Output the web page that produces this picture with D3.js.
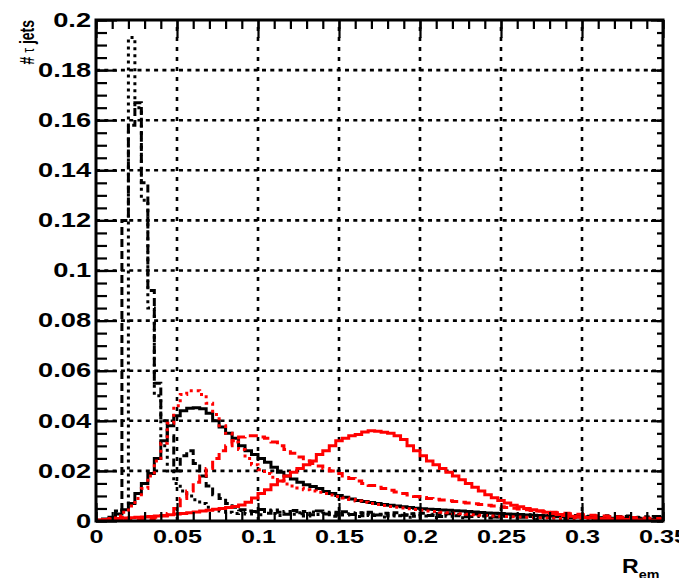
<!DOCTYPE html>
<html>
<head>
<meta charset="utf-8">
<script src="https://cdn.jsdelivr.net/npm/d3@7"></script>
<style>
  html, body { margin: 0; padding: 0; background: #fff; }
  svg { display: block; }
  text { font-family: "Liberation Sans", Arial, Helvetica, sans-serif; font-weight: bold; fill: #000; }
</style>
</head>
<body>
<svg id="chart" width="679" height="578"></svg>
<script>
// ---------------- data ----------------
const binWidth = 0.004;   // histogram bin width (bins start at 0)

const xTicks = [0, 0.05, 0.1, 0.15, 0.2, 0.25, 0.3, 0.35];
const xTickLabels = ["0", "0.05", "0.1", "0.15", "0.2", "0.25", "0.3", "0.35"];
const yTicks = [0, 0.02, 0.04, 0.06, 0.08, 0.1, 0.12, 0.14, 0.16, 0.18, 0.2];
const yTickLabels = ["0", "0.02", "0.04", "0.06", "0.08", "0.1", "0.12", "0.14", "0.16", "0.18", "0.2"];

// black solid
const blackSolid = [
  0.0003,0.0008,0.0015,0.0028,0.0045,0.007,0.011,0.015,0.019,0.025,
  0.032,0.038,0.042,0.044,0.045,0.0452,0.0448,0.043,0.040,0.0375,
  0.035,0.033,0.030,0.028,0.0265,0.025,0.0235,0.0215,0.0195,0.018,
  0.0168,0.0155,0.0145,0.0138,0.013,0.0118,0.011,0.0102,0.0095,0.0088,
  0.0082,0.0078,0.0074,0.007,0.0066,0.0063,0.006,0.0057,0.0054,0.0051,
  0.0049,0.0047,0.0046,0.0044,0.0043,0.0041,0.004,0.0038,0.0036,0.0034,
  0.0032,0.0031,0.003,0.0028,0.0027,0.0026,0.0024,0.0023,0.0022,0.0021,
  0.002,0.0019,0.0018,0.0017,0.0016,0.0015,0.0014,0.0013,0.0012,0.0011,
  0.001,0.0009,0.0009,0.0008,0.0007,0.0007,0.0006,0.0006
];
// black dashed (narrow peak)
const blackDashed = [
  0,0,0.0005,0.004,0.12,0.158,0.167,0.135,0.092,0.055,
  0.04,0.034,0.02,0.026,0.028,0.023,0.018,0.014,0.0105,0.009,
  0.007,0.0055,0.0045,0.004,0.0038,0.0046,0.0031,0.0044,0.0035,0.0027,
  0.0042,0.0029,0.0038,0.0025,0.004,0.0028,0.0035,0.0023,0.0037,0.0026,
  0.0033,0.0021,0.0035,0.0024,0.0031,0.002,0.0033,0.0023,0.0029,0.0019,
  0.0031,0.0022,0.0027,0.0018,0.0029,0.0021,0.0026,0.0017,0.0028,0.002,
  0.0024,0.0016,0.0027,0.0019,0.0023,0.0015,0.0025,0.0018,0.0022,0.0014,
  0.0024,0.0017,0.002,0.0013,0.0022,0.0016,0.0019,0.0012,0.0021,0.0015,
  0.0018,0.0011,0.002,0.0014,0.0017,0.001,0.0018,0.0013
];
// black dotted (tallest peak)
const blackDotted = [
  0,0,0,0.0005,0.004,0.193,0.165,0.128,0.085,0.05,
  0.03,0.02,0.015,0.012,0.01,0.0085,0.007,0.0055,0.0045,0.004,
  0.0035,0.003,0.0042,0.0028,0.0036,0.0025,0.0041,0.003,0.0022,0.0038,
  0.0027,0.0033,0.002,0.0036,0.0026,0.0031,0.0019,0.0034,0.0024,0.0029,
  0.0018,0.0032,0.0022,0.0027,0.0016,0.003,0.0021,0.0025,0.0015,0.0028,
  0.002,0.0024,0.0014,0.0027,0.0019,0.0023,0.0013,0.0025,0.0018,0.0021,
  0.0012,0.0024,0.0017,0.002,0.0011,0.0023,0.0016,0.0019,0.001,0.0022,
  0.0015,0.0018,0.001,0.002,0.0014,0.0017,0.0009,0.0019,0.0013,0.0016,
  0.0009,0.0018,0.0012,0.0015,0.0008,0.0016,0.0011,0.0013
];
// red solid (broad, late peak)
const redSolid = [
  0.0004,0.0006,0.0008,0.001,0.0012,0.0013,0.0015,0.0016,0.0018,0.002,
  0.0022,0.0025,0.0028,0.003,0.0033,0.0036,0.004,0.0043,0.0047,0.005,
  0.0054,0.0058,0.0064,0.0075,0.0092,0.011,0.0125,0.0145,0.016,0.018,
  0.0195,0.021,0.0225,0.024,0.0265,0.028,0.030,0.032,0.033,0.034,
  0.0345,0.0355,0.036,0.0358,0.0354,0.035,0.034,0.0325,0.030,0.028,
  0.026,0.024,0.0225,0.021,0.0195,0.018,0.0165,0.015,0.0135,0.012,
  0.0105,0.0093,0.0082,0.0072,0.0063,0.0057,0.005,0.0045,0.004,0.0035,
  0.003,0.0026,0.0022,0.0019,0.0016,0.0014,0.0012,0.001,0.0009,0.0008,
  0.0007,0.0006,0.0005,0.0004,0.0003,0.0003,0.0002,0.0002
];
// red dashed (peak near 0.1)
const redDashed = [
  0,0,0,0.0001,0.0002,0.0003,0.0005,0.0008,0.001,0.0015,
  0.002,0.003,0.005,0.009,0.012,0.0155,0.018,0.021,0.025,0.028,
  0.030,0.032,0.0335,0.034,0.034,0.0335,0.033,0.0315,0.030,0.0285,
  0.027,0.0255,0.024,0.023,0.022,0.021,0.020,0.019,0.018,0.017,
  0.016,0.015,0.0142,0.0135,0.013,0.0123,0.0116,0.011,0.0104,0.0098,
  0.0094,0.009,0.0087,0.0084,0.0081,0.0078,0.0075,0.0072,0.0069,0.0066,
  0.0063,0.006,0.0057,0.0054,0.0051,0.0048,0.0045,0.0042,0.004,0.0037,
  0.0035,0.0033,0.0031,0.0029,0.0027,0.0025,0.0023,0.0021,0.002,0.0018,
  0.0017,0.0015,0.0014,0.0013,0.0012,0.0011,0.001,0.0009
];
// red dotted (peak near 0.06)
const redDotted = [
  0.0002,0.0005,0.001,0.002,0.0035,0.006,0.009,0.013,0.018,0.024,
  0.031,0.039,0.046,0.0505,0.052,0.052,0.0505,0.047,0.0425,0.038,
  0.035,0.0315,0.0285,0.025,0.0225,0.0205,0.019,0.0175,0.016,0.0148,
  0.014,0.0132,0.0125,0.012,0.0115,0.011,0.0104,0.0098,0.0092,0.0086,
  0.008,0.0075,0.007,0.0066,0.0062,0.0058,0.0055,0.0052,0.0049,0.0046,
  0.0043,0.004,0.0038,0.0035,0.0033,0.0031,0.0029,0.0027,0.0025,0.0023,
  0.0022,0.002,0.0019,0.0018,0.0017,0.0016,0.0015,0.0014,0.0013,0.0012,
  0.0011,0.001,0.001,0.0009,0.0008,0.0008,0.0007,0.0006,0.0006,0.0005,
  0.0005,0.0004,0.0004,0.0003,0.0003,0.0003,0.0002,0.0002
];

// ---------------- drawing ----------------
const svg = d3.select("#chart");
const x = d3.scaleLinear().domain([0, 0.35]).range([96, 663]);
const y = d3.scaleLinear().domain([0, 0.2]).range([521, 20]);
const TXS = 1.4; // horizontal stretch of the reference text

svg.append("defs").append("clipPath").attr("id", "frameClip")
  .append("rect").attr("x", x(0)).attr("y", y(0.2))
  .attr("width", x(0.35) - x(0)).attr("height", y(0) - y(0.2));

// grid
const grid = svg.append("g");
grid.selectAll("line.gx").data(xTicks.slice(1, -1)).join("line")
  .attr("x1", d => x(d)).attr("x2", d => x(d))
  .attr("y1", y(0)).attr("y2", y(0.2))
  .attr("stroke", "#000").attr("stroke-width", 2.6).attr("stroke-dasharray", "4,6");
grid.selectAll("line.gy").data(yTicks.slice(1, -1)).join("line")
  .attr("y1", d => y(d)).attr("y2", d => y(d))
  .attr("x1", x(0)).attr("x2", x(0.35))
  .attr("stroke", "#000").attr("stroke-width", 2.6).attr("stroke-dasharray", "4,4.3");

// histograms
const line = d3.line().x(d => x(d.x)).y(d => y(d.y)).curve(d3.curveStepAfter);
function histPts(vals) {
  const pts = [{x: 0, y: 0}];
  vals.forEach((v, i) => pts.push({x: i * binWidth, y: v}));
  const end = vals.length * binWidth;
  pts.push({x: end, y: vals[vals.length - 1]});
  pts.push({x: end, y: 0});
  return pts;
}
const series = [
  {vals: blackSolid,  color: "#000", dash: null},
  {vals: blackDashed, color: "#000", dash: "8,4"},
  {vals: blackDotted, color: "#000", dash: "3,4"},
  {vals: redDashed,   color: "#ff0000", dash: "9,5"},
  {vals: redDotted,   color: "#ff0000", dash: "3,4"},
  {vals: redSolid,    color: "#ff0000", dash: null}
];
const hg = svg.append("g").attr("clip-path", "url(#frameClip)");
series.forEach(s => {
  hg.append("path").attr("d", line(histPts(s.vals)))
    .attr("fill", "none").attr("stroke", s.color).attr("stroke-width", 3)
    .attr("stroke-dasharray", s.dash);
});

// axes
function styleAxis(g) {
  g.select(".domain").remove();
  g.selectAll(".tick line").attr("stroke", "#000").attr("stroke-width", 2.2);
}
const yMinor = d3.range(0, 0.2001, 0.005);
const xMinor = d3.range(0, 0.3501, 0.01);

// left
svg.append("g").attr("transform", `translate(${x(0)},0)`)
  .call(d3.axisLeft(y).tickValues(yMinor).tickFormat("").tickSizeInner(-11).tickSizeOuter(0))
  .call(styleAxis);
const gyL = svg.append("g").attr("transform", `translate(${x(0)},0)`)
  .call(d3.axisLeft(y).tickValues(yTicks).tickFormat((d, i) => yTickLabels[i])
        .tickSizeInner(-21).tickSizeOuter(0).tickPadding(3.5))
  .call(styleAxis);
gyL.selectAll("text").attr("font-size", 19.5).attr("transform", `scale(${TXS},1)`)
  .attr("font-family", "'Liberation Sans', Arial, sans-serif").attr("font-weight", "bold");

// right
svg.append("g").attr("transform", `translate(${x(0.35)},0)`)
  .call(d3.axisRight(y).tickValues(yMinor).tickFormat("").tickSizeInner(-6).tickSizeOuter(0))
  .call(styleAxis);
svg.append("g").attr("transform", `translate(${x(0.35)},0)`)
  .call(d3.axisRight(y).tickValues(yTicks).tickFormat("").tickSizeInner(-12).tickSizeOuter(0))
  .call(styleAxis);

// bottom
svg.append("g").attr("transform", `translate(0,${y(0)})`)
  .call(d3.axisBottom(x).tickValues(xMinor).tickFormat("").tickSizeInner(-9).tickSizeOuter(0))
  .call(styleAxis);
const gxB = svg.append("g").attr("transform", `translate(0,${y(0)})`)
  .call(d3.axisBottom(x).tickValues(xTicks).tickFormat((d, i) => xTickLabels[i])
        .tickSizeInner(-18).tickSizeOuter(0).tickPadding(9))
  .call(styleAxis);
gxB.selectAll("text").attr("font-size", 18).attr("transform", `scale(${TXS},1)`)
  .attr("font-family", "'Liberation Sans', Arial, sans-serif").attr("font-weight", "bold");

// top
svg.append("g").attr("transform", `translate(0,${y(0.2)})`)
  .call(d3.axisTop(x).tickValues(xMinor).tickFormat("").tickSizeInner(-9).tickSizeOuter(0))
  .call(styleAxis);
svg.append("g").attr("transform", `translate(0,${y(0.2)})`)
  .call(d3.axisTop(x).tickValues(xTicks).tickFormat("").tickSizeInner(-18).tickSizeOuter(0))
  .call(styleAxis);

// frame
svg.append("rect").attr("x", x(0)).attr("y", y(0.2))
  .attr("width", x(0.35) - x(0)).attr("height", y(0) - y(0.2))
  .attr("fill", "none").attr("stroke", "#000").attr("stroke-width", 3);

// y title
const yt = svg.append("text")
  .attr("transform", `translate(34,${y(0.2)}) rotate(-90) scale(1,${TXS})`)
  .attr("text-anchor", "end").attr("font-size", 14);
yt.append("tspan").text("# ");
yt.append("tspan").attr("font-weight", "normal").attr("font-size", 12).text("τ");
yt.append("tspan").text(" jets");

// x title
const xt = svg.append("text")
  .attr("transform", `translate(622,573) scale(1.1,1)`)
  .attr("font-size", 21);
xt.append("tspan").text("R");
xt.append("tspan").attr("font-size", 13).attr("dy", 6).text("em");
</script>
</body>
</html>
